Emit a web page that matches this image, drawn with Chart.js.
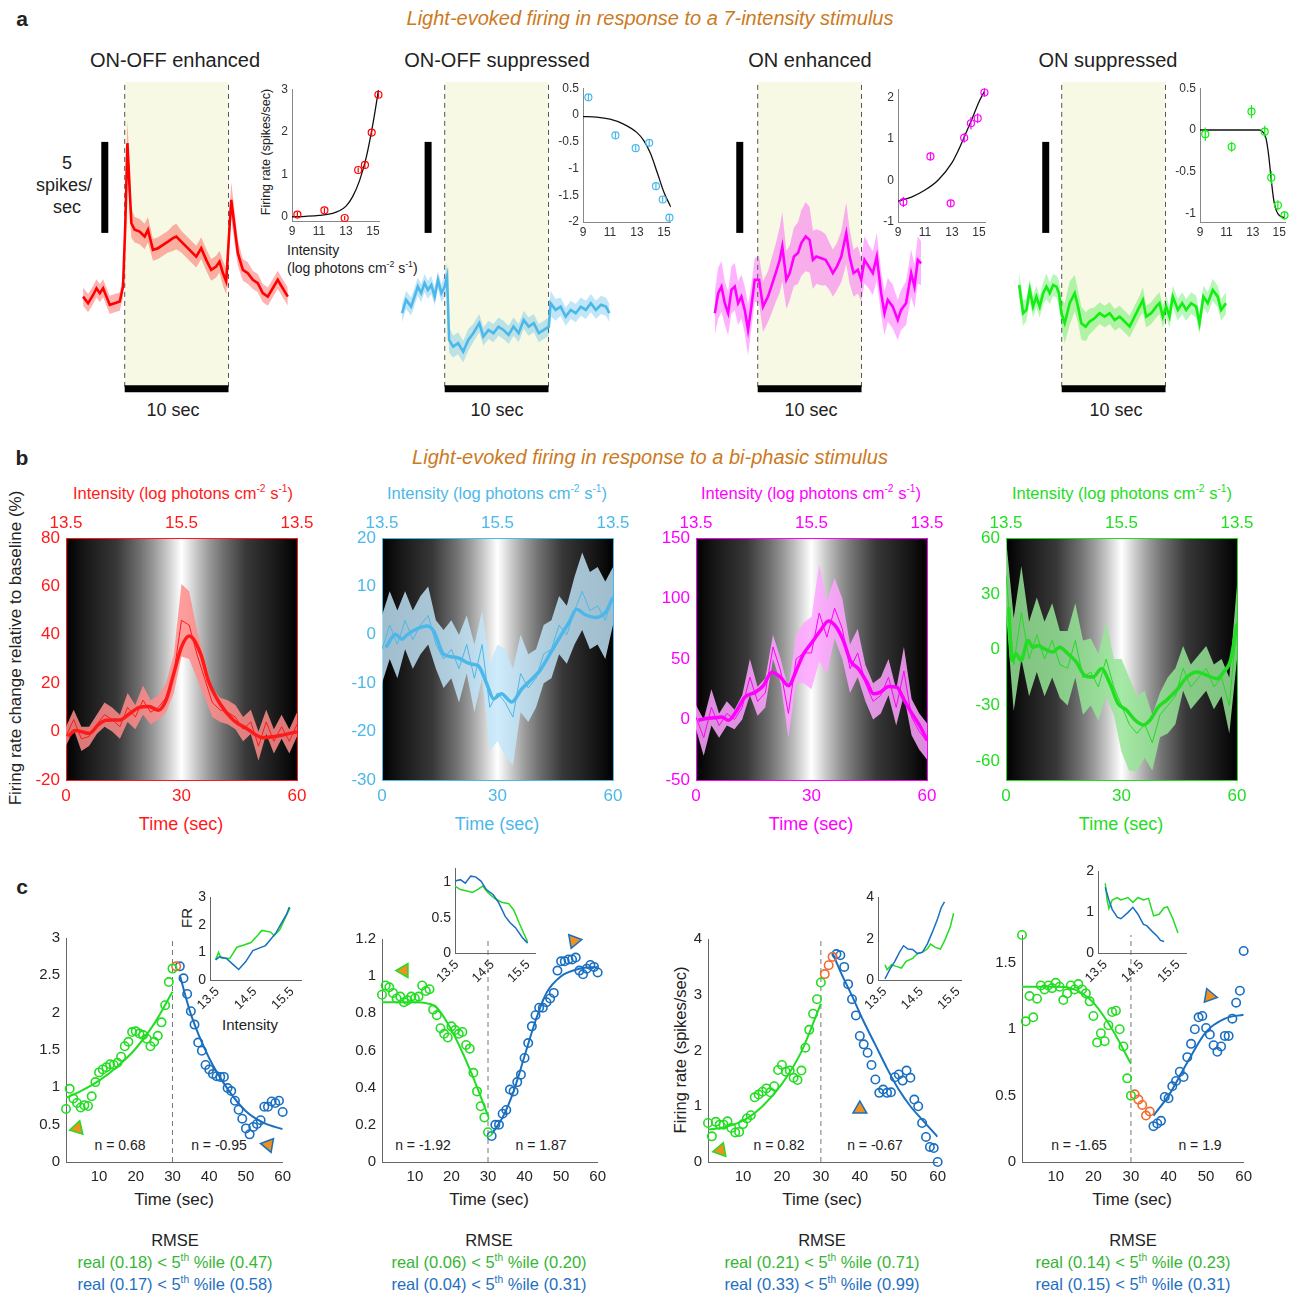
<!DOCTYPE html>
<html>
<head>
<meta charset="utf-8">
<script src="https://cdn.jsdelivr.net/npm/chart.js@4.4.1/dist/chart.umd.min.js"></script>
<style>
html, body { margin: 0; padding: 0; background: #fff; }
body { width: 1295px; height: 1295px; position: relative; overflow: hidden; font-family: 'Liberation Sans', Arial, sans-serif; color: #222; }
canvas { position: absolute; }
.t { position: absolute; white-space: nowrap; transform: translate(-50%, -50%); line-height: 1; }
.l { transform: translate(0, -50%); }
.rot { transform: translate(-50%, -50%) rotate(-90deg); }
sup { font-size: 62%; vertical-align: super; line-height: 0; }
.org { font-size: 20px; font-style: italic; color: #cc7a22; }
.ttl { font-size: 20px; top: 60px; }
.nn { font-size: 17px; top: 104px; }
.sec { font-size: 18px; top: 410px; }
.int { font-size: 16.5px; top: 493px; }
.tb { font-size: 18px; top: 824px; }
.tc { font-size: 17px; top: 1199px; }
.nc { font-size: 14px; top: 1145px; }
.rm { font-size: 16.5px; }
.g { color: #36b536; }
.b { color: #1f6fc0; }
</style>
</head>
<body>
<div class="t" style="left:22px;top:18px;font-size:21px;font-weight:bold">a</div>
<div class="t org" style="left:650px;top:18px">Light-evoked firing in response to a 7-intensity stimulus</div>
<div class="t ttl" style="left:175px">ON-OFF enhanced</div>
<div class="t ttl" style="left:497px">ON-OFF suppressed</div>
<div class="t ttl" style="left:810px">ON enhanced</div>
<div class="t ttl" style="left:1108px">ON suppressed</div>
<div class="t nn" style="left:176px">n = 29</div>
<div class="t nn" style="left:497px">n = 19</div>
<div class="t nn" style="left:808px">n = 3</div>
<div class="t nn" style="left:1113px">n = 4</div>
<div class="t sec" style="left:173px">10 sec</div>
<div class="t sec" style="left:497px">10 sec</div>
<div class="t sec" style="left:811px">10 sec</div>
<div class="t sec" style="left:1116px">10 sec</div>
<div class="t" style="left:67px;top:163px;font-size:18px">5</div>
<div class="t" style="left:64px;top:185px;font-size:18px">spikes/</div>
<div class="t" style="left:67px;top:207px;font-size:18px">sec</div>
<div class="t rot" style="left:266px;top:152px;font-size:12.5px">Firing rate (spikes/sec)</div>
<div class="t l" style="left:287px;top:250px;font-size:14px">Intensity</div>
<div class="t l" style="left:287px;top:268px;font-size:14px">(log photons cm<sup>-2</sup> s<sup>-1</sup>)</div>

<div class="t" style="left:22px;top:457px;font-size:21px;font-weight:bold">b</div>
<div class="t org" style="left:650px;top:457px">Light-evoked firing in response to a bi-phasic stimulus</div>
<div class="t int" style="left:183px;color:#ff1a1a">Intensity (log photons cm<sup>-2</sup> s<sup>-1</sup>)</div>
<div class="t int" style="left:497px;color:#4cb8ea">Intensity (log photons cm<sup>-2</sup> s<sup>-1</sup>)</div>
<div class="t int" style="left:811px;color:#ff00ff">Intensity (log photons cm<sup>-2</sup> s<sup>-1</sup>)</div>
<div class="t int" style="left:1122px;color:#22dd22">Intensity (log photons cm<sup>-2</sup> s<sup>-1</sup>)</div>
<div class="t tb" style="left:181px;color:#ff1a1a">Time (sec)</div>
<div class="t tb" style="left:497px;color:#4cb8ea">Time (sec)</div>
<div class="t tb" style="left:811px;color:#ff00ff">Time (sec)</div>
<div class="t tb" style="left:1121px;color:#22dd22">Time (sec)</div>
<div class="t rot" style="left:15px;top:648px;font-size:17px">Firing rate change relative to baseline (%)</div>

<div class="t" style="left:22px;top:886px;font-size:21px;font-weight:bold">c</div>
<div class="t rot" style="left:186px;top:918px;font-size:15px">FR</div>
<div class="t" style="left:250px;top:1024px;font-size:15px">Intensity</div>
<div class="t rot" style="left:680px;top:1050px;font-size:16.5px">Firing rate (spikes/sec)</div>
<div class="t nc" style="left:120px">n = 0.68</div>
<div class="t nc" style="left:219px">n = -0.95</div>
<div class="t nc" style="left:423px">n = -1.92</div>
<div class="t nc" style="left:541px">n = 1.87</div>
<div class="t nc" style="left:779px">n = 0.82</div>
<div class="t nc" style="left:875px">n = -0.67</div>
<div class="t nc" style="left:1079px">n = -1.65</div>
<div class="t nc" style="left:1200px">n = 1.9</div>
<div class="t tc" style="left:174px">Time (sec)</div>
<div class="t tc" style="left:489px">Time (sec)</div>
<div class="t tc" style="left:822px">Time (sec)</div>
<div class="t tc" style="left:1132px">Time (sec)</div>

<div class="t rm" style="left:175px;top:1240px">RMSE</div>
<div class="t rm g" style="left:175px;top:1262px">real (0.18) &lt; 5<sup>th</sup> %ile (0.47)</div>
<div class="t rm b" style="left:175px;top:1284px">real (0.17) &lt; 5<sup>th</sup> %ile (0.58)</div>
<div class="t rm" style="left:489px;top:1240px">RMSE</div>
<div class="t rm g" style="left:489px;top:1262px">real (0.06) &lt; 5<sup>th</sup> %ile (0.20)</div>
<div class="t rm b" style="left:489px;top:1284px">real (0.04) &lt; 5<sup>th</sup> %ile (0.31)</div>
<div class="t rm" style="left:822px;top:1240px">RMSE</div>
<div class="t rm g" style="left:822px;top:1262px">real (0.21) &lt; 5<sup>th</sup> %ile (0.71)</div>
<div class="t rm b" style="left:822px;top:1284px">real (0.33) &lt; 5<sup>th</sup> %ile (0.99)</div>
<div class="t rm" style="left:1133px;top:1240px">RMSE</div>
<div class="t rm g" style="left:1133px;top:1262px">real (0.14) &lt; 5<sup>th</sup> %ile (0.23)</div>
<div class="t rm b" style="left:1133px;top:1284px">real (0.15) &lt; 5<sup>th</sup> %ile (0.31)</div>

<script>
// ---- row a: responses to the 7-intensity stimulus (sec from onset, spikes/sec) ----
const aRedT = [-4.01,-3.53,-3.04,-2.72,-2.40,-2.08,-1.76,-1.44,-0.96,-0.48,-0.16,0.06,0.26,0.48,0.64,0.96,1.44,1.92,2.24,2.72,3.21,3.69,4.17,4.65,4.97,5.45,5.93,6.41,6.89,7.37,7.85,8.33,8.81,9.13,9.46,9.78,10.10,10.26,10.58,10.90,11.38,11.86,12.34,12.82,13.30,13.78,14.26,14.74,15.22,15.71];
const aRedV = [4.96,4.60,5.05,5.42,5.15,5.42,4.96,4.51,4.60,4.69,5.51,8.99,13.39,10.82,8.99,8.63,8.53,8.26,8.63,7.53,7.62,7.80,7.98,8.17,8.26,7.98,7.71,7.43,7.16,7.62,6.98,6.43,6.61,6.88,6.25,5.79,8.81,10.27,8.81,7.35,6.43,6.25,5.88,5.70,5.15,4.96,5.42,5.88,5.42,4.96];
const aRedE = [0.5,0.5,0.5,0.5,0.5,0.5,0.5,0.5,0.5,0.5,0.6,1.0,1.3,1.1,0.8,0.7,0.7,0.7,0.7,0.6,0.6,0.6,0.6,0.7,0.7,0.6,0.6,0.6,0.6,0.6,0.6,0.6,0.6,0.6,0.7,0.7,0.9,1.0,0.9,0.7,0.6,0.6,0.5,0.5,0.5,0.5,0.5,0.5,0.5,0.5];

const aBlueT = [-4.11,-3.72,-3.24,-2.91,-2.59,-2.27,-1.94,-1.62,-1.29,-0.97,-0.65,-0.32,0.0,0.23,0.42,0.81,1.29,1.78,2.27,2.75,3.33,3.72,4.21,4.69,5.18,5.66,6.15,6.63,7.12,7.61,8.09,8.58,9.06,9.55,10.03,10.19,10.68,11.17,11.65,12.14,12.62,13.11,13.59,14.08,14.56,15.05,15.53,15.86];
const aBlueV = [4.05,4.78,4.41,4.96,5.51,5.15,5.70,5.33,5.60,4.96,5.88,5.15,5.51,6.06,2.58,2.21,2.40,1.94,2.58,2.95,3.50,2.76,3.13,2.95,3.31,3.13,2.86,3.31,2.95,3.68,3.31,3.50,2.95,3.13,3.31,4.60,4.23,4.41,3.86,4.23,4.05,4.41,4.23,4.60,4.23,4.51,4.41,4.05];
const aBlueE = [0.5,0.5,0.5,0.5,0.5,0.5,0.5,0.5,0.5,0.5,0.5,0.5,0.6,0.8,0.7,0.6,0.6,0.6,0.6,0.5,0.5,0.5,0.5,0.5,0.5,0.5,0.5,0.5,0.5,0.5,0.5,0.5,0.5,0.5,0.5,0.7,0.6,0.5,0.5,0.5,0.5,0.5,0.5,0.5,0.5,0.5,0.5,0.5];

const aMagT = [-4.13,-3.81,-3.49,-3.17,-2.85,-2.53,-2.21,-1.89,-1.57,-1.25,-0.93,-0.61,-0.29,0.13,0.51,0.99,1.31,1.73,2.12,2.37,2.76,3.08,3.49,3.88,4.2,4.62,5.0,5.32,5.64,6.12,6.54,6.92,7.24,7.63,8.05,8.53,8.85,9.23,9.65,9.97,10.29,10.7,11.09,11.47,11.89,12.21,12.53,13.01,13.49,13.81,14.29,14.78,15.1,15.42,15.74];
const aMagV = [4.05,5.15,5.51,4.60,4.05,5.33,5.51,4.60,4.96,4.23,3.13,4.41,5.88,5.88,4.41,4.96,5.51,6.25,6.98,7.71,5.88,6.25,7.16,7.35,7.90,8.26,8.08,6.98,7.16,7.07,6.98,6.61,6.25,6.61,7.16,8.44,7.16,6.25,6.43,5.88,6.98,6.61,6.25,7.16,5.15,4.05,4.78,4.41,3.68,4.23,4.60,6.25,5.51,6.98,6.79];
const aMagE = [1.2,1.4,1.4,1.2,1.2,1.3,1.3,1.2,1.2,1.3,1.4,1.2,1.2,1.3,1.4,1.4,1.5,1.6,1.8,1.9,1.6,1.5,1.6,1.7,1.8,1.9,1.8,1.6,1.5,1.5,1.4,1.3,1.3,1.3,1.4,1.7,1.5,1.3,1.3,1.2,1.3,1.2,1.2,1.3,1.2,1.2,1.2,1.2,1.1,1.1,1.2,1.3,1.2,1.3,1.2];

const aGrnT = [-4.10,-3.72,-3.40,-3.08,-2.76,-2.44,-2.12,-1.79,-1.47,-1.15,-0.83,-0.51,-0.26,-0.03,0.29,0.77,1.25,1.57,1.89,2.31,2.69,3.17,3.65,4.13,4.62,5.1,5.58,6.06,6.54,7.02,7.5,7.82,8.14,8.62,9.1,9.42,9.74,10.06,10.38,10.7,11.19,11.6,11.99,12.47,12.95,13.27,13.65,14.07,14.55,15.03,15.35,15.83];
const aGrnV = [5.60,4.05,4.23,5.33,4.41,4.96,4.41,5.15,5.51,5.15,5.60,5.51,5.15,4.05,3.50,4.60,5.15,4.41,3.50,3.31,3.59,3.77,4.05,3.86,4.05,3.68,3.86,3.59,3.31,3.86,4.41,4.78,3.86,4.05,4.41,4.60,3.86,4.41,3.86,4.96,4.23,4.60,4.23,4.60,4.41,3.50,4.96,4.60,5.33,4.96,4.23,4.60];
const aGrnE = [0.7,0.7,0.6,0.6,0.6,0.6,0.6,0.6,0.7,0.6,0.6,0.6,0.7,0.8,1.1,1.2,1.0,0.9,0.9,0.8,0.7,0.6,0.6,0.6,0.6,0.6,0.6,0.6,0.6,0.6,0.6,0.7,0.6,0.6,0.6,0.6,0.6,0.6,0.6,0.6,0.6,0.6,0.6,0.6,0.6,0.6,0.6,0.6,0.6,0.6,0.6,0.6];

// insets: intensity-response (log photons, spikes/sec change)
const aInsX = [9.4, 11.4, 12.9, 13.9, 14.4, 14.9, 15.4];
const a1Pts = [0.05, 0.15, -0.03, 1.1, 1.22, 1.98, 2.87];
const a1Err = [0.06, 0.06, 0.05, 0.06, 0.07, 0.07, 0.07];
const a2Pts = [0.33, -0.38, -0.62, -0.52, -1.33, -1.58, -1.92];
const a2Err = [0.06, 0.06, 0.05, 0.06, 0.06, 0.06, 0.06];
const a3Pts = [-0.52, 0.58, -0.55, 1.03, 1.38, 1.5, 2.12];
const a3Err = [0.12, 0.1, 0.08, 0.12, 0.15, 0.12, 0.1];
const a4Pts = [-0.05, -0.2, 0.22, -0.02, -0.57, -0.9, -1.02];
const a4Err = [0.08, 0.06, 0.08, 0.07, 0.08, 0.06, 0.05];
const a1FitX = [9, 10, 11, 12, 12.5, 13, 13.5, 14, 14.5, 15, 15.4];
const a1FitV = [0, 0.01, 0.03, 0.08, 0.14, 0.25, 0.48, 0.85, 1.4, 2.2, 2.98];
const a2FitX = [9, 10, 11, 12, 13, 13.5, 14, 14.5, 15, 15.5];
const a2FitV = [-0.03, -0.04, -0.08, -0.17, -0.33, -0.48, -0.72, -1.08, -1.45, -1.72];
const a3FitX = [9, 10, 11, 12, 13, 13.5, 14, 14.5, 15, 15.4];
const a3FitV = [-0.5, -0.4, -0.23, 0.02, 0.43, 0.75, 1.12, 1.5, 1.9, 2.15];
const a4FitX = [9, 10, 11, 12, 13, 13.5, 13.8, 14, 14.2, 14.4, 14.6, 14.8, 15, 15.4];
const a4FitV = [0, 0, 0, 0, 0, 0, -0.03, -0.1, -0.3, -0.6, -0.85, -0.97, -1.02, -1.05];

// ---- row b: bi-phasic stimulus (% change vs time) ----
const bT = [0,2,4,6,8,10,12,14,16,18,20,22,24,26,28,30,32,34,36,38,40,42,44,46,48,50,52,54,56,58,60];
const bXTicks = [0, 30, 60];
const bTopLabels = ['13.5', '15.5', '13.5'];
const redThin = [-2,5,-3,-2,3,7,5,2,10,6,13,8,10,14,24,46,44,32,22,12,9,8,6,1,4,-6,4,-4,2,-4,3];
const redErr = [4,4,5,4,4,5,5,5,6,5,6,5,5,6,8,15,14,10,8,6,5,5,5,5,5,6,5,5,5,5,5];
const redThickT = [0.5,2.5,6,8.5,10.5,14,16.5,19,21.5,24,26,28,30,32,35,37,40,43.5,47,51,56,60];
const redThick = [-2,0.5,-0.8,3,4.7,4.8,7.4,10,10.4,8.8,13,24,35,39.5,32,21,11.5,4.7,1.2,-2.5,-1.5,0];
const blueThin = [-3,2,-2,3,-1,2,4,-2,-5,-3,-7,-2,-9,-2,-15,-12,-14,-17,-8,-11,-9,-4,-3,2,0,5,9,5,6,3,8];
const blueErr = [7,7,7,6,6,6,6,5,6,6,7,6,7,7,9,10,11,10,8,7,6,6,6,6,6,7,8,8,8,8,6];
const blueThickT = [1,3.5,5.2,6.5,9,11.7,13.4,16,19.4,23,25,27.2,29,31,33.7,36.3,39,41,43.6,46.2,48.8,50.5,52.7,55.3,58,60];
const blueThick = [-2.6,0.1,-0.9,0,1.2,1.8,0.8,-4,-4.7,-6,-6.4,-10.1,-13.2,-12.2,-13.9,-11.2,-9.1,-7.4,-4,-0.5,2.9,5.3,4.2,3.6,4.6,7.7];
const magThin = [2,-15,10,-5,5,0,10,35,15,22,60,40,5,50,55,55,88,68,92,75,42,55,30,15,20,35,10,40,2,-10,-18];
const magErr = [10,15,15,10,10,8,10,15,12,12,10,10,20,20,25,30,40,30,25,25,20,20,15,15,15,15,15,20,15,15,15];
const magThickT = [0.6,2.3,4.9,6.7,8.4,10.6,12.7,15.4,17.5,19.7,21.9,24,26.2,27.9,30.1,32.3,34.4,36.2,38.3,40.1,42.2,44.4,46.1,47.9,50,52.2,53.9,56.1,58.3,60];
const magThick = [-0.7,0.7,1.5,2,-0.7,7.5,18.5,22.6,28,39,35,28,41.8,54,63.7,73.3,81.5,77.4,65,48.6,41.8,30.8,21.2,22.6,27.3,26.7,17.1,4.8,-6.2,-17.1];
const grnThin = [40,-8,20,-5,8,-5,5,-8,-10,5,-15,-12,-20,-5,-20,-30,-40,-45,-40,-50,-35,-30,-25,-10,-20,-15,-10,-20,-15,-30,15];
const grnErr = [20,25,25,20,20,20,20,18,20,20,20,18,18,20,15,25,25,20,18,15,12,15,15,12,12,12,12,12,10,15,20];
const grnThickT = [0.7,1.6,2.6,3.9,5.7,7,8.3,10,12.2,13.9,16.1,18.3,20.4,22.6,24.8,27,29.1,31.3,33.5,35.7,37.4,39.6,41.7,44.3,47,49.6,52.2,54.8,56.5,58.3,60];
const grnThick = [22.7,-5.8,-2.2,-5.8,4.9,1.3,2.2,0.4,-1.3,1.3,-2.2,-6.7,-13.8,-14.7,-10.2,-18.2,-28.9,-32.4,-37.8,-40.4,-37.8,-30.7,-27.1,-21.8,-14.7,-12,-13.8,-15.6,-12,-5.8,13.8];

// ---- row c: firing rate per second, up (green) / peak (orange) / down (blue) ----
const cSec = [1,2,3,4,5,6,7,8,9,10,11,12,13,14,15,16,17,18,19,20,21,22,23,24,25,26,27,28,29,30,31,32,33,34,35,36,37,38,39,40,41,42,43,44,45,46,47,48,49,50,51,52,53,54,55,56,57,58,59,60];
const cXTicks = [10, 20, 30, 40, 50, 60];
const c1Green = [0.71,0.98,0.85,0.79,0.73,0.76,0.75,0.88,1.07,1.20,1.24,1.27,1.31,1.30,1.33,1.41,1.55,1.61,1.74,1.75,1.72,1.70,1.65,1.55,1.61,1.69,1.87,2.10,2.41,2.59];
const c1Orange = [2.62];
const c1Blue = [2.62,2.46,2.25,2.02,1.84,1.60,1.49,1.30,1.24,1.18,1.15,1.14,1.14,0.99,0.95,0.82,0.70,0.58,0.45,0.37,0.47,0.51,0.56,0.74,0.74,0.81,0.79,0.82,0.67];
const c2Green = [0.90,0.95,0.94,0.91,0.88,0.89,0.86,0.87,0.89,0.88,0.89,0.95,0.92,0.93,0.82,0.79,0.72,0.69,0.67,0.73,0.71,0.69,0.70,0.63,0.61,0.48,0.38,0.30,0.24,0.16];
const c2Orange = [];
const c2Blue = [0.14,0.20,0.20,0.26,0.28,0.39,0.38,0.43,0.47,0.56,0.64,0.73,0.79,0.83,0.83,0.86,0.88,0.91,1.03,1.08,1.08,1.09,1.09,1.10,1.03,1.01,1.04,1.06,1.05,1.02];
const c3Green = [0.70,0.46,0.72,0.67,0.67,0.73,0.61,0.53,0.54,0.68,0.78,0.84,1.16,1.21,1.26,1.32,1.25,1.36,1.65,1.74,1.62,1.64,1.51,1.47,1.64,2.05,2.37,2.66,2.92,3.22];
const c3Orange = [3.37,3.53,3.68];
const c3Blue = [3.73,3.71,3.50,3.19,2.92,2.63,2.26,2.11,1.96,1.74,1.48,1.24,1.30,1.24,1.25,1.52,1.57,1.46,1.64,1.51,1.12,1.00,0.70,0.45,0.27,0.25,0.00];
const c4Green = [1.71,1.06,1.25,1.09,1.23,1.33,1.30,1.33,1.31,1.35,1.32,1.22,1.27,1.33,1.30,1.34,1.30,1.27,1.21,1.10,0.90,0.97,0.91,1.03,1.13,1.14,1.00,0.87,0.63,0.50];
const c4Orange = [0.51,0.47,0.43,0.35,0.38];
const c4Blue = [0.27,0.29,0.31,0.49,0.48,0.57,0.61,0.68,0.64,0.79,0.89,1.00,1.09,1.10,1.01,0.96,0.88,0.83,0.87,0.95,0.95,1.08,1.20,1.29,1.59];

const c1FitGT = [1, 5, 10, 15, 20, 25, 30];
const c1FitGV = [0.86, 0.95, 1.09, 1.28, 1.52, 1.85, 2.28];
const c1FitBT = [32, 35, 40, 45, 50, 55, 60];
const c1FitBV = [2.5, 1.98, 1.39, 0.98, 0.68, 0.52, 0.44];
const c2FitGT = [1, 5, 10, 13, 16, 20, 25, 30];
const c2FitGV = [0.86, 0.86, 0.86, 0.855, 0.83, 0.71, 0.50, 0.25];
const c2FitBT = [31, 34, 37, 40, 43, 46, 50, 55, 60];
const c2FitBV = [0.15, 0.24, 0.38, 0.57, 0.76, 0.91, 1.00, 1.04, 1.05];
const c3FitGT = [1, 5, 10, 15, 20, 25, 30];
const c3FitGV = [0.58, 0.62, 0.74, 1.0, 1.4, 1.98, 2.84];
const c3FitBT = [33, 35, 38, 41, 44, 47, 50, 53, 56, 60];
const c3FitBV = [3.75, 3.42, 2.98, 2.52, 2.1, 1.68, 1.3, 1.0, 0.76, 0.45];
const c4FitGT = [1, 5, 10, 14, 17, 20, 25, 30];
const c4FitGV = [1.32, 1.32, 1.32, 1.31, 1.27, 1.2, 1.0, 0.74];
const c4FitBT = [36, 40, 45, 50, 55, 60];
const c4FitBV = [0.35, 0.5, 0.75, 0.98, 1.08, 1.11];

// insets: FR vs intensity for up (green) and down (blue) phases
const c1InsGT = [13.45,13.53,13.6,13.83,14.02,14.21,14.4,14.6,14.69,14.93,15.02,15.17,15.31,15.45];
const c1InsGV = [0.73,1.0,0.8,0.78,1.19,1.27,1.36,1.65,1.8,1.74,1.61,1.82,2.23,2.63];
const c1InsBT = [13.45,13.55,13.74,13.93,14.07,14.26,14.45,14.6,14.79,14.93,15.07,15.21,15.36,15.43];
const c1InsBV = [0.73,0.84,0.78,0.55,0.38,0.67,1.07,1.15,1.25,1.48,1.71,2.05,2.4,2.65];
const c2InsGT = [13.45,13.6,13.79,13.94,14.08,14.23,14.37,14.57,14.76,14.96,15.1,15.25,15.39,15.49];
const c2InsGV = [0.95,0.9,0.88,0.86,0.9,0.95,0.86,0.77,0.72,0.7,0.61,0.43,0.27,0.16];
const c2InsBT = [13.45,13.6,13.74,13.89,14.03,14.18,14.33,14.52,14.67,14.86,15.0,15.15,15.34,15.49];
const c2InsBV = [1.02,1.04,0.99,1.09,1.08,1.02,0.9,0.83,0.72,0.52,0.43,0.36,0.22,0.14];
const c3InsGT = [13.5,13.56,13.68,13.81,13.95,14.08,14.26,14.39,14.53,14.66,14.75,14.88,15.02,15.15,15.29,15.38];
const c3InsGV = [0.74,0.5,0.74,0.66,0.58,0.9,1.05,1.28,1.35,1.5,1.74,1.58,1.5,1.97,2.58,3.23];
const c3InsBT = [13.5,13.63,13.77,13.9,14.01,14.13,14.26,14.39,14.53,14.66,14.79,14.93,15.04,15.13];
const c3InsBV = [0.05,0.5,0.9,1.35,1.66,1.5,1.48,1.28,1.35,1.74,2.28,2.9,3.5,3.78];
const c4InsGT = [13.5,13.55,13.6,13.69,13.83,13.93,14.12,14.26,14.4,14.55,14.69,14.83,14.98,15.12,15.21,15.36,15.5];
const c4InsGV = [1.71,1.3,1.09,1.3,1.36,1.3,1.36,1.24,1.36,1.3,1.34,0.91,0.95,1.11,1.13,0.84,0.49];
const c4InsBT = [13.5,13.6,13.69,13.83,13.93,14.12,14.26,14.4,14.55,14.64,14.79,14.93,15.02,15.12];
const c4InsBV = [1.61,1.3,1.07,0.88,0.84,0.99,1.12,0.95,0.7,0.67,0.53,0.41,0.31,0.28];
const cInsTicks = [13.5, 14.5, 15.5];

// ---------------------------------------------------------------------------
Chart.defaults.font.family = "'Liberation Sans', Arial, sans-serif";
Chart.defaults.animation = false;
Chart.defaults.responsive = false;
Chart.defaults.devicePixelRatio = 1;
Chart.defaults.plugins.legend.display = false;
Chart.defaults.plugins.tooltip.enabled = false;

const NONE = 'rgba(0,0,0,0)';
const GREEN = '#22dd22', BLUE = '#1a6fc0', ORANGE = '#f26b2e', TRI = '#f0901e';

function pts(xs, ys) {
    return xs.map((x, i) => ({ x: x, y: ys[i] }));
}

// put a chart so that its plot area lands on box, with margins m for the axes
function place(box, m, cfg) {
    const c = document.createElement('canvas');
    c.width = Math.round(box.r - box.l + m.l + m.r);
    c.height = Math.round(box.b - box.t + m.t + m.b);
    c.style.left = Math.round(box.l - m.l) + 'px';
    c.style.top = Math.round(box.t - m.t) + 'px';
    document.body.appendChild(c);
    cfg.options = cfg.options || {};
    cfg.options.layout = { padding: 0 };
    return new Chart(c, cfg);
}

function axis(pos, min, max, ticks, size, color, fit, opts) {
    opts = opts || {};
    return {
        type: 'linear', position: pos, min: min, max: max,
        afterBuildTicks: s => { s.ticks = ticks.map(v => ({ value: v })); },
        afterFit: s => {
            if (pos === 'left' || pos === 'right') s.width = fit; else s.height = fit;
        },
        grid: { display: false, drawTicks: false },
        border: { color: opts.border || color, width: 1 },
        ticks: {
            display: opts.hide ? false : true,
            color: color, font: { size: size }, padding: opts.pad || 5,
            autoSkip: false, maxRotation: opts.rot || 0, minRotation: opts.rot || 0,
            callback: opts.labels ? ((v, i) => opts.labels[i]) : undefined
        }
    };
}

// ---- row a traces ----
const PXS = 10.4;
const STIM_TOP = 16.75;
function traceChart(onsetPx, col, bandCol, T, V, E, barT) {
    const box = { l: onsetPx - 4.5 * PXS, r: onsetPx + 16.5 * PXS, t: 82, b: 396 };
    const dashed = x => ({ data: [{ x: x, y: 0 }, { x: x, y: STIM_TOP }], borderColor: '#555', borderWidth: 1, borderDash: [5, 4], pointRadius: 0, order: 4 });
    return place(box, { l: 0, r: 0, t: 0, b: 0 }, {
        type: 'line',
        data: { datasets: [
            { data: [{ x: 0, y: STIM_TOP }, { x: 10, y: STIM_TOP }], fill: { value: 0 }, backgroundColor: '#f7f9e4', borderColor: NONE, borderWidth: 0, pointRadius: 0, order: 9 },
            dashed(0), dashed(10),
            { data: [{ x: 0, y: -0.1 }, { x: 10, y: -0.1 }], borderColor: '#000', borderWidth: 7, pointRadius: 0, order: 3 },
            { data: [{ x: barT, y: 8.46 }, { x: barT, y: 13.46 }], borderColor: '#000', borderWidth: 7, pointRadius: 0, order: 3 },
            { data: pts(T, V.map((v, i) => v + E[i])), fill: '+1', backgroundColor: bandCol, borderColor: NONE, borderWidth: 0, pointRadius: 0, order: 6 },
            { data: pts(T, V.map((v, i) => v - E[i])), borderColor: NONE, borderWidth: 0, pointRadius: 0, order: 7 },
            { data: pts(T, V), borderColor: col, borderWidth: 2.6, pointRadius: 0, order: 1 }
        ]},
        options: { scales: {
            x: { type: 'linear', display: false, min: -4.5, max: 16.5 },
            y: { type: 'linear', display: false, min: -0.5, max: STIM_TOP }
        }}
    });
}
traceChart(125, '#ff0000', 'rgba(255,0,0,0.3)', aRedT, aRedV, aRedE, -1.92);
traceChart(445, '#4cb8ea', 'rgba(76,184,234,0.35)', aBlueT, aBlueV, aBlueE, -1.6);
traceChart(758, '#ff00ff', 'rgba(255,0,255,0.3)', aMagT, aMagV, aMagE, -1.73);
traceChart(1062, '#11ee11', 'rgba(17,230,17,0.3)', aGrnT, aGrnV, aGrnE, -1.54);

// ---- row a insets ----
function aInset(box, col, pv, pe, fx, fv, yMin, yMax, yTicks, ml) {
    const errData = [];
    aInsX.forEach((x, i) => {
        errData.push({ x: x, y: pv[i] - pe[i] }, { x: x, y: pv[i] + pe[i] }, { x: x, y: null });
    });
    const ink = '#333';
    return place(box, { l: ml, r: 8, t: 8, b: 20 }, {
        type: 'line',
        data: { datasets: [
            { data: pts(fx, fv), borderColor: '#111', borderWidth: 1.3, pointRadius: 0, cubicInterpolationMode: 'monotone', order: 3 },
            { data: errData, borderColor: col, borderWidth: 1.2, pointRadius: 0, spanGaps: false, clip: false, order: 2 },
            { data: pts(aInsX, pv), showLine: false, pointRadius: 3.5, pointBorderColor: col, pointBackgroundColor: NONE, pointBorderWidth: 1.2, clip: false, order: 1 }
        ]},
        options: { scales: {
            x: axis('bottom', 9, 15.5, [9, 11, 13, 15], 12, ink, 20, { border: '#888', pad: 3 }),
            y: axis('left', yMin, yMax, yTicks, 12, ink, ml, { border: '#888', pad: 4 })
        }}
    });
}
aInset({ l: 292, r: 377, t: 86, b: 221 }, '#ff0000', a1Pts, a1Err, a1FitX, a1FitV, -0.1, 3, [0, 1, 2, 3], 22);
aInset({ l: 583, r: 668, t: 85, b: 222 }, '#4cb8ea', a2Pts, a2Err, a2FitX, a2FitV, -2, 0.5, [-2, -1.5, -1, -0.5, 0, 0.5], 30);
aInset({ l: 898, r: 983, t: 86, b: 222 }, '#ff00ff', a3Pts, a3Err, a3FitX, a3FitV, -1, 2.2, [-1, 0, 1, 2], 22);
aInset({ l: 1200, r: 1283, t: 85, b: 222 }, '#11ee11', a4Pts, a4Err, a4FitX, a4FitV, -1.1, 0.5, [-1, -0.5, 0, 0.5], 30);

// ---- row b ----
const shadeStops = [[0, '#000'], [0.07, '#141414'], [0.22, '#383838'], [0.32, '#707070'], [0.38, '#999'], [0.43, '#c2c2c2'], [0.48, '#eee'], [0.5, '#fff'],
    [0.52, '#eee'], [0.57, '#c2c2c2'], [0.62, '#999'], [0.68, '#707070'], [0.78, '#383838'], [0.93, '#141414'], [1, '#000']];
const stimShade = {
    id: 'stimShade',
    beforeDraw(chart) {
        const a = chart.chartArea, ctx = chart.ctx;
        const g = ctx.createLinearGradient(a.left, 0, a.right, 0);
        shadeStops.forEach(s => g.addColorStop(s[0], s[1]));
        ctx.save();
        ctx.fillStyle = g;
        ctx.fillRect(a.left, a.top, a.right - a.left, a.bottom - a.top);
        ctx.restore();
    }
};
function bChart(left, col, bandCol, yMin, yMax, yTicks, thin, err, thickT, thick) {
    const box = { l: left, r: left + 231, t: 538, b: 780 };
    const m = { l: 50, r: 22, t: 30, b: 28 };
    return place(box, m, {
        type: 'line',
        data: { datasets: [
            { data: pts(bT, thin.map((v, i) => v + err[i])), fill: '+1', backgroundColor: bandCol, borderColor: NONE, borderWidth: 0, pointRadius: 0, order: 6 },
            { data: pts(bT, thin.map((v, i) => v - err[i])), borderColor: NONE, borderWidth: 0, pointRadius: 0, order: 7 },
            { data: pts(bT, thin), borderColor: col, borderWidth: 1, pointRadius: 0, order: 3 },
            { data: pts(thickT, thick), borderColor: col, borderWidth: 3.5, pointRadius: 0, cubicInterpolationMode: 'monotone', order: 1 }
        ]},
        options: { scales: {
            x: axis('bottom', 0, 60, bXTicks, 17, col, m.b, { pad: 6 }),
            xt: axis('top', 0, 60, bXTicks, 17, col, m.t, { pad: 4, labels: bTopLabels }),
            y: axis('left', yMin, yMax, yTicks, 17, col, m.l, { pad: 6 }),
            yr: axis('right', yMin, yMax, yTicks, 17, col, m.r, { hide: true })
        }},
        plugins: [stimShade]
    });
}
bChart(66, '#ff1a1a', 'rgba(255,140,140,0.85)', -20, 80, [-20, 0, 20, 40, 60, 80], redThin, redErr, redThickT, redThick);
bChart(382, '#4cb8ea', 'rgba(195,230,250,0.82)', -30, 20, [-30, -20, -10, 0, 10, 20], blueThin, blueErr, blueThickT, blueThick);
bChart(696, '#ff00ff', 'rgba(255,165,255,0.85)', -50, 150, [-50, 0, 50, 100, 150], magThin, magErr, magThickT, magThick);
bChart(1006, '#22dd22', 'rgba(150,228,150,0.85)', -70, 60, [-60, -30, 0, 30, 60], grnThin, grnErr, grnThickT, grnThick);

// ---- row c ----
function scatterSet(T, V, col) {
    return { data: pts(T, V), showLine: false, pointRadius: 4.2, pointBorderColor: col, pointBackgroundColor: NONE, pointBorderWidth: 1.6, clip: false, order: 2 };
}
function fitSet(T, V, col) {
    return { data: pts(T, V), borderColor: col, borderWidth: 2, pointRadius: 0, cubicInterpolationMode: 'monotone', order: 3 };
}
function triSet(x, y, rot, edge) {
    return { data: [{ x: x, y: y }], showLine: false, pointStyle: 'triangle', pointRadius: 8, pointRotation: rot, pointBackgroundColor: TRI, pointBorderColor: edge, pointBorderWidth: 1.5, clip: false, order: 1 };
}
function cChart(box, yMax, yTicks, green, orange, blue, fits, tris) {
    const m = { l: 45, r: 15, t: 12, b: 28 };
    const nG = green.length, nO = orange.length;
    const sets = [
        { data: [{ x: 30, y: 0 }, { x: 30, y: yMax }], borderColor: '#777', borderWidth: 1, borderDash: [5, 4], pointRadius: 0, order: 5 },
        scatterSet(cSec.slice(0, nG), green, GREEN),
        scatterSet(cSec.slice(nG, nG + nO), orange, ORANGE),
        scatterSet(cSec.slice(nG + nO, nG + nO + blue.length), blue, BLUE)
    ].concat(fits, tris);
    const ink = '#262626';
    return place(box, m, {
        type: 'line',
        data: { datasets: sets },
        options: { scales: {
            x: axis('bottom', 1, 60, cXTicks, 15, ink, m.b, { border: '#666', pad: 6 }),
            y: axis('left', 0, yMax, yTicks, 15, ink, m.l, { border: '#666', pad: 6 })
        }}
    });
}
function cInset(box, yMin, yMax, yTicks, gT, gV, bT2, bV) {
    const m = { l: box.ml, r: 10, t: 8, b: 40 };
    const ink = '#262626';
    return place(box, m, {
        type: 'line',
        data: { datasets: [
            { data: pts(gT, gV), borderColor: GREEN, borderWidth: 1.5, pointRadius: 0, order: 2 },
            { data: pts(bT2, bV), borderColor: BLUE, borderWidth: 1.5, pointRadius: 0, order: 1 }
        ]},
        options: { scales: {
            x: axis('bottom', box.x0, box.x1, cInsTicks, 13, ink, m.b, { border: '#666', pad: 4, rot: 45 }),
            y: axis('left', yMin, yMax, yTicks, 14, ink, m.l, { border: '#666', pad: 4 })
        }}
    });
}

cChart({ l: 66, r: 282, t: 935, b: 1162 }, 3, [0, 0.5, 1, 1.5, 2, 2.5, 3], c1Green, c1Orange, c1Blue,
    [fitSet(c1FitGT, c1FitGV, GREEN), fitSet(c1FitBT, c1FitBV, BLUE)],
    [triSet(4.1, 0.45, 17, GREEN), triSet(56.1, 0.23, 160, BLUE)]);
cChart({ l: 382, r: 597, t: 936, b: 1162 }, 1.2, [0, 0.2, 0.4, 0.6, 0.8, 1, 1.2], c2Green, c2Orange, c2Blue,
    [fitSet(c2FitGT, c2FitGV, GREEN), fitSet(c2FitBT, c2FitBV, BLUE)],
    [triSet(7.0, 1.03, 150, GREEN), triSet(53.5, 1.19, 200, BLUE)]);
cChart({ l: 708, r: 937, t: 936, b: 1162 }, 4, [0, 1, 2, 3, 4], c3Green, c3Orange, c3Blue,
    [fitSet(c3FitGT, c3FitGV, GREEN), fitSet(c3FitBT, c3FitBV, BLUE)],
    [triSet(4.25, 0.21, 20, GREEN), triSet(40.0, 0.95, 240, BLUE)]);
cChart({ l: 1022, r: 1243, t: 932, b: 1162 }, 1.71, [0, 0.5, 1, 1.5], c4Green, c4Orange, c4Blue,
    [fitSet(c4FitGT, c4FitGV, GREEN), fitSet(c4FitBT, c4FitBV, BLUE)],
    [triSet(50.9, 1.25, 220, BLUE)]);

cInset({ l: 210, r: 297, t: 893, b: 980, x0: 13.3, x1: 15.75, ml: 20 }, 0, 3, [0, 1, 2, 3], c1InsGT, c1InsGV, c1InsBT, c1InsBV);
cInset({ l: 455, r: 533, t: 864, b: 953, x0: 13.45, x1: 15.72, ml: 32 }, 0, 1.2, [0, 0.5, 1], c2InsGT, c2InsGV, c2InsBT, c2InsBV);
cInset({ l: 878, r: 963, t: 893, b: 980, x0: 13.31, x1: 15.6, ml: 20 }, 0, 4, [0, 2, 4], c3InsGT, c3InsGV, c3InsBT, c3InsBV);
cInset({ l: 1098, r: 1183, t: 867, b: 953, x0: 13.3, x1: 15.73, ml: 20 }, 0, 2, [0, 1, 2], c4InsGT, c4InsGV, c4InsBT, c4InsBV);
</script>
</body>
</html>
